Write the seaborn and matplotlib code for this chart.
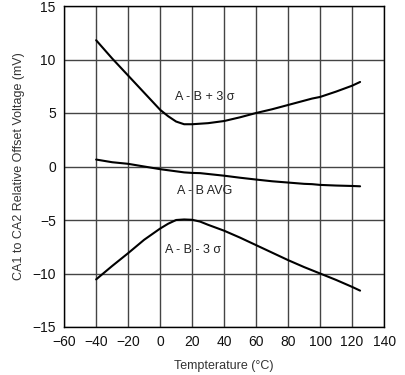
import numpy as np
import pandas as pd
import matplotlib
matplotlib.use("Agg")
import matplotlib.pyplot as plt
import seaborn as sns

# temperature points (degC)
temp = [-40, -30, -20, -10, 0, 5, 10, 15, 20, 25, 30, 40, 50, 60, 70, 80, 90, 95, 100, 110, 120, 125]
# A - B + 3 sigma (mV)
upper = [11.8, 10.1, 8.5, 6.9, 5.3, 4.7, 4.2, 3.95, 3.95, 4.0, 4.05, 4.25, 4.6, 5.0, 5.35,
         5.75, 6.15, 6.35, 6.5, 7.0, 7.55, 7.9]
# A - B average (mV)
avg = [0.65, 0.4, 0.25, 0.0, -0.25, -0.35, -0.45, -0.55, -0.6, -0.62, -0.7, -0.86, -1.05, -1.22, -1.38,
       -1.5, -1.62, -1.65, -1.72, -1.78, -1.82, -1.85]
# A - B - 3 sigma (mV)
lower = [-10.55, -9.3, -8.1, -6.85, -5.8, -5.35, -5.0, -4.95, -4.98, -5.15, -5.45, -6.0, -6.65, -7.35, -8.05,
         -8.75, -9.4, -9.7, -10.0, -10.6, -11.25, -11.6]

labels = ["A - B + 3 σ", "A - B AVG", "A - B - 3 σ"]
label_pos = [(28, 6.5), (28, -2.3), (20.5, -7.8)]

df = pd.DataFrame({"temp": temp * 3,
                   "value": upper + avg + lower,
                   "series": [labels[0]] * len(temp) + [labels[1]] * len(temp) + [labels[2]] * len(temp)})

sns.set_style("white")
plt.rcParams["font.family"] = ["Liberation Sans", "DejaVu Sans"]

fig, ax = plt.subplots(figsize=(4.06, 3.75), dpi=100)
fig.subplots_adjust(left=0.158, right=0.946, top=0.984, bottom=0.128)

sns.lineplot(data=df, x="temp", y="value", units="series", estimator=None, color="black",
             linewidth=1.5, ax=ax, legend=False)

for txt, (x, y) in zip(labels, label_pos):
    ax.text(x, y, txt, ha="center", va="center", fontsize=9, color="#222222", zorder=5)

ax.set_xlim(-60, 140)
ax.set_ylim(-15, 15)
ax.set_xticks(np.arange(-60, 141, 20))
ax.set_yticks(np.arange(-15, 16, 5))
ax.grid(True, color="#444444", linewidth=1)
ax.set_axisbelow(True)
ax.tick_params(length=0, labelsize=10, colors="#111111", pad=6)
for s in ax.spines.values():
    s.set_color("black")
    s.set_linewidth(1)

ax.set_xlabel("Tempterature (°C)", fontsize=9, color="#333333", labelpad=8)
ax.set_ylabel("CA1 to CA2 Relative Offset Voltage (mV)", fontsize=9, color="#333333", labelpad=5)

plt.savefig("out.png", dpi=100)
